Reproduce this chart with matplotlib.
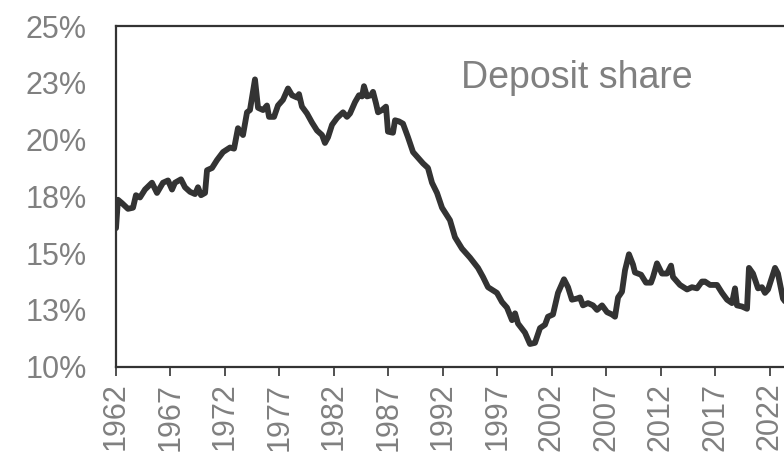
import matplotlib.pyplot as plt

# Deposit share (% of total)
years = [
    1962.00, 1962.18, 1962.55, 1963.10, 1963.56, 1963.83, 1964.20, 1964.66, 1965.30, 1965.76,
    1966.31, 1966.77, 1967.14, 1967.41, 1967.96, 1968.33, 1968.79, 1969.25, 1969.52, 1969.80,
    1970.17, 1970.35, 1970.81, 1971.27, 1971.82, 1972.46, 1972.83, 1973.19, 1973.65, 1974.02,
    1974.29, 1974.75, 1975.03, 1975.49, 1975.85, 1976.04, 1976.50, 1976.86, 1977.32, 1977.78,
    1978.15, 1978.61, 1978.79, 1979.06, 1979.52, 1979.98, 1980.44, 1980.90, 1981.17, 1981.45,
    1981.82, 1982.28, 1982.83, 1983.19, 1983.47, 1983.93, 1984.29, 1984.57, 1984.75, 1985.03,
    1985.39, 1985.58, 1985.85, 1986.04, 1986.40, 1986.77, 1986.95, 1987.41, 1987.60, 1987.96,
    1988.33, 1988.79, 1989.25, 1989.71, 1990.17, 1990.62, 1990.99, 1991.45, 1991.91, 1992.64,
    1993.10, 1993.74, 1994.48, 1995.21, 1995.67, 1996.13, 1996.95, 1997.41, 1997.87, 1998.33,
    1998.61, 1998.88, 1999.52, 1999.98, 2000.44, 2000.90, 2001.36, 2001.63, 2002.09, 2002.55,
    2003.10, 2003.47, 2003.83, 2004.29, 2004.57, 2004.84, 2005.30, 2005.76, 2006.13, 2006.59,
    2007.05, 2007.50, 2007.78, 2008.06, 2008.42, 2008.70, 2009.06, 2009.43, 2009.61, 2010.17,
    2010.62, 2011.08, 2011.27, 2011.63, 2012.09, 2012.55, 2012.92, 2013.10, 2013.74, 2014.39,
    2014.84, 2015.30, 2015.76, 2016.03, 2016.50, 2017.14, 2017.60, 2018.06, 2018.51, 2018.79,
    2018.97, 2019.43, 2019.89, 2020.07, 2020.44, 2020.90, 2021.26, 2021.54, 2021.82, 2022.46,
    2022.73, 2023.19, 2023.65,
]
share = [
    16.10, 17.35, 17.20, 16.95, 17.00, 17.55, 17.45, 17.80, 18.10, 17.65,
    18.10, 18.20, 17.80, 18.10, 18.25, 17.90, 17.70, 17.60, 17.90, 17.55,
    17.65, 18.65, 18.75, 19.10, 19.45, 19.65, 19.60, 20.50, 20.20, 21.20,
    21.30, 22.65, 21.40, 21.30, 21.50, 21.00, 21.00, 21.50, 21.75, 22.25,
    21.95, 21.85, 22.00, 21.45, 21.15, 20.75, 20.40, 20.20, 19.85, 20.10,
    20.65, 20.95, 21.20, 21.00, 21.15, 21.65, 21.95, 21.90, 22.35, 21.90,
    21.95, 22.10, 21.60, 21.20, 21.30, 21.45, 20.35, 20.30, 20.85, 20.80,
    20.70, 20.10, 19.45, 19.20, 18.95, 18.75, 18.10, 17.65, 17.00, 16.45,
    15.70, 15.20, 14.80, 14.35, 13.95, 13.50, 13.25, 12.85, 12.60, 12.05,
    12.35, 11.90, 11.50, 11.00, 11.05, 11.70, 11.85, 12.20, 12.30, 13.25,
    13.85, 13.50, 12.95, 13.00, 13.05, 12.70, 12.80, 12.70, 12.50, 12.70,
    12.40, 12.30, 12.20, 13.05, 13.30, 14.25, 14.95, 14.50, 14.15, 14.05,
    13.70, 13.70, 13.95, 14.55, 14.10, 14.10, 14.45, 13.95, 13.60, 13.40,
    13.50, 13.45, 13.75, 13.75, 13.60, 13.60, 13.25, 12.95, 12.80, 13.45,
    12.70, 12.65, 12.55, 14.35, 14.10, 13.45, 13.50, 13.25, 13.40, 14.35,
    14.10, 13.00, 12.70,
]

x_ticks = list(range(1962, 2023, 5))
y_ticks = [10, 12.5, 15, 17.5, 20, 22.5, 25]
y_labels = ['10%', '13%', '15%', '18%', '20%', '23%', '25%']

plt.rcParams['font.family'] = ['Liberation Sans', 'DejaVu Sans']
grey = '#808080'
dark = '#333333'

fig = plt.figure(figsize=(7.84, 4.58), dpi=100)
# axes runs past the right edge of the picture, like the cropped original
ax = fig.add_axes([116 / 784, 91.3 / 458, 62 * 10.9 / 784, 340.7 / 458])

ax.plot(years, share, color=dark, linewidth=4.2, solid_joinstyle='round',
        solid_capstyle='round')

ax.set_xlim(1962, 2024)
ax.set_ylim(10, 25)
ax.set_xticks(x_ticks)
ax.set_xticklabels([str(y) for y in x_ticks], rotation=90)
ax.set_yticks(y_ticks)
ax.set_yticklabels(y_labels)

for side in ['left', 'top', 'bottom', 'right']:
    ax.spines[side].set_color(dark)
    ax.spines[side].set_linewidth(1.6)

ax.tick_params(axis='x', direction='out', length=6.5, width=1.2, color=dark,
               labelsize=22, labelcolor=grey, pad=5)
ax.tick_params(axis='y', length=0, labelsize=22, labelcolor=grey, pad=21)

fig.text(577 / 784, 1 - 88 / 458, 'Deposit share', ha='center', va='baseline',
         fontsize=27, color=grey)

plt.savefig('out.png', dpi=100)
plt.close()
